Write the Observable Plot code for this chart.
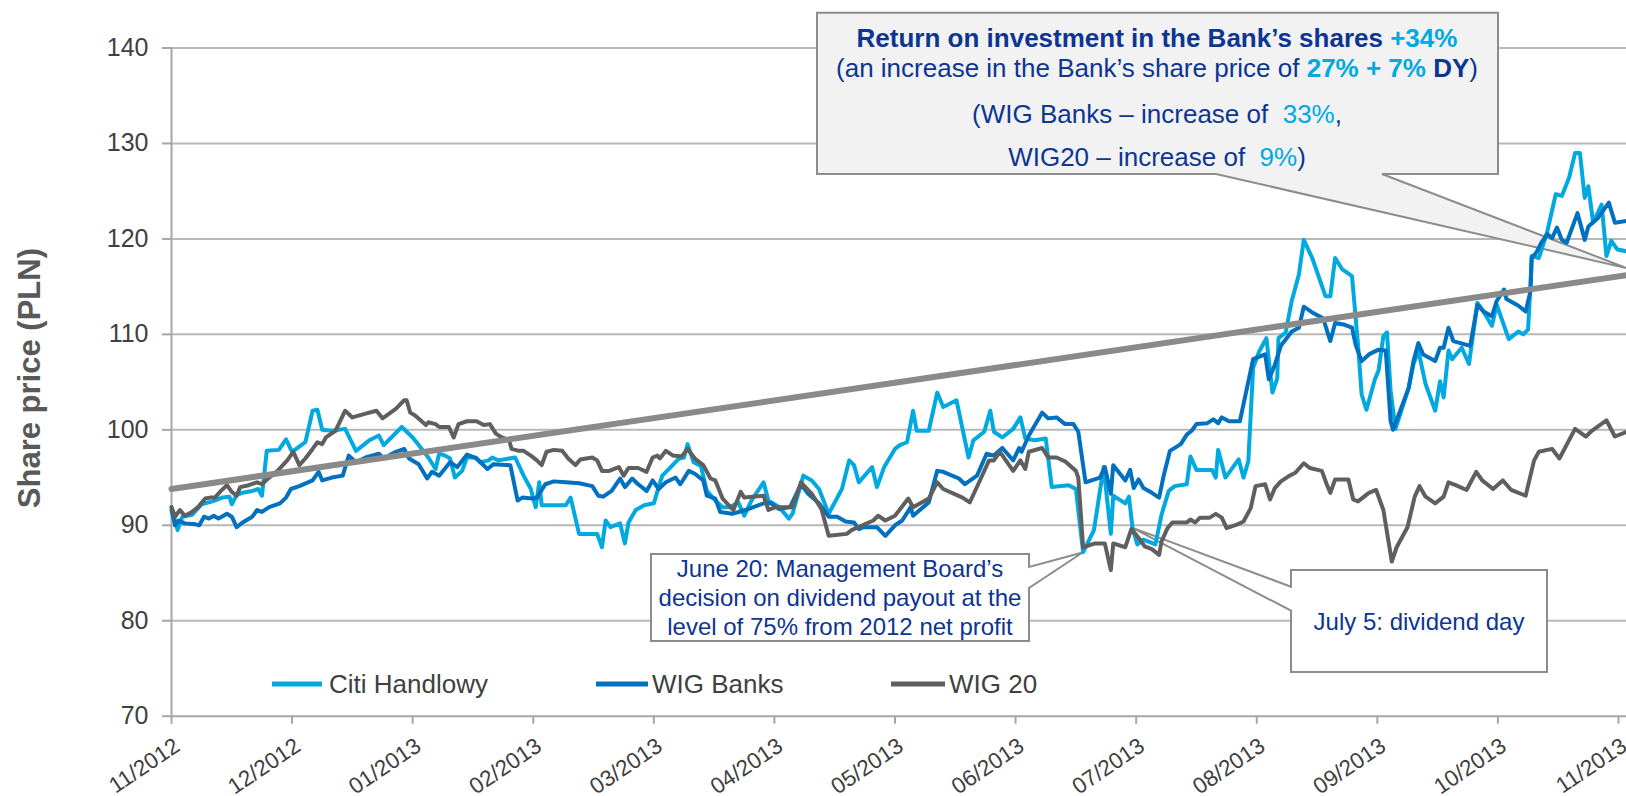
<!DOCTYPE html>
<html><head><meta charset="utf-8">
<script src="https://cdn.jsdelivr.net/npm/d3@7"></script>
<script src="https://cdn.jsdelivr.net/npm/@observablehq/plot@0.6"></script>
<style>
html,body{margin:0;padding:0;background:#fff;}
#chart{position:relative;width:1626px;height:796px;}
svg{display:block;}
</style></head><body><div id="chart"></div>
<script>
// ---- tick labels ----
const monthLabels = ["11/2012","12/2012","01/2013","02/2013","03/2013","04/2013","05/2013","06/2013","07/2013","08/2013","09/2013","10/2013","11/2013"];
const yTicks = [70, 80, 90, 100, 110, 120, 130, 140];

// ---- series: [months since 11/2012, share price] ----
const citi = [[0,91.9],[0.05,89.5],[0.09,90.9],[0.17,91.1],[0.25,92.2],[0.34,92.5],[0.42,92.9],[0.48,93.0],[0.50,92.2],[0.54,93.2],[0.59,93.4],[0.67,93.6],[0.72,93.8],[0.75,93.1],[0.79,97.8],[0.89,97.9],[0.95,99.0],[1.00,97.7],[1.11,98.7],[1.17,102.0],[1.21,102.1],[1.25,100.0],[1.33,99.9],[1.44,100.1],[1.53,97.8],[1.64,98.9],[1.72,99.4],[1.76,98.4],[1.91,100.3],
[2.00,99.2],[2.05,98.4],[2.13,97.1],[2.19,95.9],[2.22,97.5],[2.27,97.3],[2.31,97.0],[2.35,95.0],[2.41,95.7],[2.45,97.1],[2.52,97.1],[2.56,96.6],[2.63,96.8],[2.66,97.1],[2.71,96.8],[2.80,97.0],[2.85,97.1],[2.92,95.2],[2.98,93.8],[3.02,91.9],[3.05,94.5],[3.07,92.1],[3.16,92.1],[3.27,92.1],[3.31,92.9],[3.38,89.1],[3.53,89.1],[3.57,87.7],[3.60,90.5],[3.64,89.8],[3.72,90.2],[3.76,88.1],[3.79,90.3],[3.85,91.6],[3.92,92.1],
[4.00,92.3],[4.04,94.0],[4.07,95.2],[4.14,96.1],[4.21,97.0],[4.25,97.1],[4.28,98.5],[4.33,96.6],[4.39,96.2],[4.44,93.6],[4.51,92.6],[4.57,91.9],[4.63,91.9],[4.70,92.4],[4.75,91.0],[4.81,92.6],[4.91,94.5],[4.95,92.6],[5.04,91.9],[5.12,90.7],[5.15,91.2],[5.24,95.2],[5.31,94.7],[5.37,93.8],[5.45,91.2],[5.56,93.8],[5.62,96.8],[5.66,96.3],[5.70,94.5],[5.81,96.1],[5.85,94.0],[5.91,96.1],
[6.00,98.0],[6.04,98.4],[6.10,98.7],[6.15,102.0],[6.18,99.9],[6.28,99.9],[6.35,103.9],[6.40,102.4],[6.51,103.1],[6.61,97.1],[6.65,98.9],[6.74,99.8],[6.79,102.0],[6.82,99.8],[6.89,99.2],[6.98,100.1],[7.04,101.3],[7.08,99.1],[7.16,98.9],[7.25,99.1],[7.30,94.0],[7.44,94.2],[7.50,93.8],[7.56,87.2],[7.65,89.5],[7.73,96.1],[7.79,89.1],[7.81,93.1],[7.91,92.3],
[7.94,93.0],[7.97,89.7],[8.01,88.0],[8.06,88.5],[8.16,88.0],[8.21,91.1],[8.27,93.6],[8.32,94.1],[8.42,94.3],[8.45,97.2],[8.50,95.8],[8.63,95.8],[8.66,95.0],[8.68,97.9],[8.74,95.0],[8.85,96.9],[8.89,95.0],[8.93,96.7],[8.97,106.5],[9.02,108.2],[9.08,109.6],[9.13,103.9],[9.17,105.4],[9.18,109.6],[9.24,110.2],[9.29,113.5],[9.35,116.3],[9.39,119.9],[9.46,118.0],[9.57,114.0],[9.61,114.0],[9.65,118.0],[9.71,116.8],[9.79,116.1],[9.84,108.9],[9.87,103.7],[9.91,102.1],
[9.98,105.3],[10.01,106.2],[10.05,109.8],[10.08,110.2],[10.11,104.1],[10.15,100.1],[10.26,104.4],[10.30,106.9],[10.34,108.3],[10.40,104.8],[10.48,102.0],[10.52,105.1],[10.55,103.4],[10.59,108.3],[10.62,107.4],[10.70,108.6],[10.76,106.9],[10.83,113.3],[10.88,112.4],[10.95,110.9],[10.99,113.1],[11.09,109.5],[11.17,110.3],[11.21,110.0],[11.25,110.5],[11.27,115.2],[11.28,118.2],[11.34,118.0],[11.41,120.8],[11.48,124.7],[11.53,124.5],[11.59,126.4],[11.64,129.0],[11.68,129.0],[11.72,124.3],[11.75,125.5],[11.79,121.7],[11.86,123.6],[11.90,118.2],[11.94,119.8],[11.99,118.9],[12.07,118.7]];

const wigBanks = [[0,91.6],[0.03,90.0],[0.06,90.5],[0.11,90.2],[0.20,90.1],[0.23,90.0],[0.27,90.9],[0.31,90.7],[0.35,91.0],[0.39,90.7],[0.46,91.2],[0.50,90.9],[0.54,89.8],[0.59,90.3],[0.67,90.9],[0.71,91.6],[0.75,91.4],[0.81,91.9],[0.90,92.3],[0.95,92.9],[0.99,93.8],[1.06,94.1],[1.17,94.7],[1.22,95.6],[1.25,94.7],[1.33,95.0],[1.42,95.2],[1.47,97.3],[1.53,96.6],[1.61,97.1],[1.72,97.5],[1.76,97.0],[1.86,97.7],[1.93,98.0],
[1.97,97.0],[2.05,96.4],[2.12,94.9],[2.16,95.6],[2.22,95.2],[2.31,96.6],[2.37,96.1],[2.45,97.4],[2.53,97.0],[2.62,95.9],[2.67,96.4],[2.81,96.3],[2.87,92.6],[2.91,92.9],[2.99,92.8],[3.03,92.9],[3.10,94.3],[3.17,94.6],[3.27,94.5],[3.38,94.4],[3.49,94.1],[3.54,93.1],[3.58,93.0],[3.65,93.6],[3.72,94.9],[3.76,94.0],[3.82,94.9],[3.87,94.3],[3.94,93.6],
[3.99,94.7],[4.04,93.8],[4.10,94.5],[4.18,95.0],[4.22,94.3],[4.29,95.7],[4.34,95.4],[4.41,94.7],[4.44,93.1],[4.51,92.8],[4.55,91.4],[4.65,91.2],[4.76,91.6],[4.91,92.3],[4.97,92.3],[5.04,91.7],[5.13,91.9],[5.22,94.3],[5.28,93.3],[5.37,92.3],[5.45,90.9],[5.52,90.9],[5.59,90.4],[5.66,90.3],[5.70,89.6],[5.74,89.8],[5.85,89.8],[5.92,88.9],
[6.00,90.0],[6.06,90.5],[6.13,91.9],[6.15,91.0],[6.28,92.4],[6.35,95.7],[6.40,95.6],[6.53,94.9],[6.58,94.3],[6.68,95.2],[6.76,97.5],[6.82,97.3],[6.89,98.1],[6.98,96.8],[7.03,98.1],[7.05,97.7],[7.11,99.4],[7.22,101.8],[7.27,101.2],[7.34,101.3],[7.41,100.6],[7.48,100.6],[7.52,99.8],[7.58,94.5],[7.70,95.0],[7.74,96.1],[7.79,93.3],[7.81,96.3],[7.91,94.7],
[7.95,95.8],[7.98,93.9],[8.02,94.8],[8.06,93.9],[8.13,93.4],[8.19,92.9],[8.23,95.3],[8.28,97.8],[8.37,98.5],[8.42,99.5],[8.46,99.9],[8.50,100.6],[8.59,100.7],[8.64,101.1],[8.68,100.7],[8.71,101.3],[8.77,100.9],[8.86,100.9],[8.97,107.4],[9.07,107.9],[9.10,105.3],[9.15,106.8],[9.20,108.8],[9.29,110.3],[9.35,110.7],[9.39,112.9],[9.46,112.3],[9.55,111.7],[9.61,109.3],[9.65,111.2],[9.73,111.0],[9.79,110.7],[9.82,108.9],[9.87,107.2],[9.93,107.9],
[10.01,108.4],[10.07,108.3],[10.11,100.9],[10.13,100.0],[10.26,104.4],[10.30,107.2],[10.34,109.1],[10.38,107.9],[10.48,107.2],[10.52,108.6],[10.55,108.6],[10.59,110.7],[10.63,109.3],[10.77,108.8],[10.83,113.1],[10.88,112.4],[10.95,111.9],[10.99,113.5],[11.05,114.7],[11.07,113.7],[11.17,113.0],[11.23,112.4],[11.27,114.5],[11.28,118.0],[11.32,118.6],[11.36,119.6],[11.41,120.5],[11.45,120.1],[11.49,121.2],[11.53,119.9],[11.57,119.6],[11.66,122.7],[11.72,119.9],[11.75,121.3],[11.83,122.2],[11.92,123.8],[11.97,121.7],[12.07,121.9]];

const wig20 = [[0,91.9],[0.03,90.9],[0.07,91.6],[0.11,91.0],[0.17,91.4],[0.22,91.9],[0.28,92.8],[0.32,92.9],[0.36,92.9],[0.41,93.6],[0.46,94.2],[0.50,93.5],[0.54,93.1],[0.57,94.0],[0.64,94.2],[0.71,94.5],[0.75,94.3],[0.81,95.0],[0.88,95.7],[0.96,96.8],[1.01,97.7],[1.06,96.3],[1.11,97.0],[1.17,98.0],[1.21,98.7],[1.25,98.5],[1.28,99.2],[1.36,99.9],[1.44,102.0],[1.50,101.3],[1.61,101.7],[1.70,102.0],[1.75,101.2],[1.86,102.2],[1.93,103.1],[1.95,103.1],
[1.98,101.8],[2.02,101.5],[2.11,100.5],[2.13,100.8],[2.19,100.6],[2.22,100.3],[2.30,100.3],[2.34,99.2],[2.38,100.6],[2.45,100.9],[2.53,100.9],[2.59,100.5],[2.64,100.6],[2.69,99.6],[2.74,99.2],[2.80,98.9],[2.82,98.0],[2.88,97.8],[2.92,97.8],[2.98,97.3],[3.03,96.8],[3.07,96.3],[3.11,97.7],[3.17,97.9],[3.24,97.8],[3.29,97.0],[3.35,96.3],[3.39,96.9],[3.49,97.1],[3.53,96.8],[3.57,95.7],[3.63,95.7],[3.71,96.1],[3.75,95.2],[3.79,96.0],[3.87,96.0],[3.94,95.6],
[3.99,97.1],[4.03,97.3],[4.05,97.0],[4.10,97.8],[4.16,97.3],[4.23,97.2],[4.28,98.0],[4.34,97.0],[4.41,96.3],[4.47,94.9],[4.51,94.7],[4.57,92.8],[4.66,91.6],[4.72,93.5],[4.75,92.9],[4.91,93.1],[4.95,91.6],[5.01,91.9],[5.15,91.9],[5.22,94.5],[5.31,93.3],[5.39,91.7],[5.45,88.9],[5.60,89.1],[5.64,89.5],[5.73,90.0],[5.82,90.5],[5.86,91.0],[5.92,90.5],
[6.00,91.0],[6.11,92.8],[6.15,91.9],[6.28,92.8],[6.35,94.5],[6.40,93.8],[6.56,92.9],[6.62,92.4],[6.69,94.3],[6.78,96.8],[6.82,96.8],[6.87,97.7],[6.98,95.7],[7.04,96.8],[7.08,95.9],[7.11,97.7],[7.22,98.1],[7.27,97.1],[7.34,97.1],[7.41,96.7],[7.50,95.7],[7.52,95.0],[7.56,87.7],[7.66,88.1],[7.74,88.1],[7.79,85.3],[7.81,88.1],[7.91,87.7],
[7.96,89.6],[8.02,88.7],[8.07,87.8],[8.13,87.5],[8.19,86.9],[8.21,88.3],[8.26,89.7],[8.30,90.3],[8.42,90.3],[8.45,90.6],[8.49,90.3],[8.53,90.8],[8.61,90.8],[8.66,91.2],[8.71,90.8],[8.75,89.7],[8.84,90.1],[8.89,90.4],[8.95,91.8],[8.99,94.1],[9.07,94.3],[9.11,92.7],[9.15,93.9],[9.20,94.6],[9.26,95.1],[9.32,95.5],[9.39,96.5],[9.44,96.0],[9.54,95.7],[9.58,94.3],[9.61,93.4],[9.65,94.8],[9.76,94.8],[9.80,92.7],[9.84,92.5],[9.93,93.4],
[9.99,93.7],[10.05,91.6],[10.12,86.2],[10.16,87.7],[10.25,89.8],[10.31,93.0],[10.35,94.1],[10.40,93.0],[10.48,92.3],[10.55,93.0],[10.59,94.5],[10.65,94.2],[10.74,93.7],[10.82,95.6],[10.87,94.7],[10.96,93.8],[11.04,94.7],[11.11,93.7],[11.23,93.1],[11.30,96.8],[11.34,97.7],[11.41,97.9],[11.45,98.0],[11.51,97.0],[11.64,100.1],[11.73,99.3],[11.77,99.8],[11.90,101.0],[11.97,99.3],[12.07,99.8]];

// trend line end points [month, value]
const trend = [[0, 93.8], [12.07, 116.2]];

const seriesNames = ["Citi Handlowy", "WIG Banks", "WIG 20"];
const seriesColors = ["#00a9e0", "#0070c0", "#5f5f5f"];

// annotation anchor points in data space [month, value]
const tipJune = [7.56, 87.1];
const tipJuly = [7.97, 89.7];
const tipRoi = [12.07, 116.9];
const xEnd = 12.07;

const FONT = '"Liberation Sans", Arial, Helvetica, sans-serif';
const DARK = "#0d3592";
const LIGHT = "#00a9e0";
const monthIdx = monthLabels.map((_, i) => i);
const rows = (arr) => arr.map(([t, v]) => ({t, v}));

const plot = Plot.plot({
  width: 1626, height: 796,
  marginLeft: 171, marginRight: 8, marginTop: 47.5, marginBottom: 80.3,
  x: {domain: [0, 12]},
  y: {domain: [70, 140]},
  style: {fontFamily: FONT, background: "white", overflow: "visible"},
  marks: [
    Plot.ruleY(yTicks.slice(1), {x1: 0, x2: xEnd, stroke: "#b8b8b8", strokeWidth: 2}),
    Plot.ruleY([70], {x1: 0, x2: xEnd, stroke: "#a6a6a6", strokeWidth: 2}),
    Plot.ruleX([0], {y1: 70, y2: 140, stroke: "#a6a6a6", strokeWidth: 2}),
    Plot.axisY({ticks: yTicks, tickSize: 9, tickPadding: 14, fontSize: 25, fill: "#404040", stroke: "#a6a6a6", strokeWidth: 2, label: null}),
    Plot.axisX({ticks: monthIdx, tickSize: 8, tickFormat: () => "", stroke: "#a6a6a6", strokeWidth: 2, label: null}),
    Plot.text(monthIdx, {x: d => d, frameAnchor: "bottom", text: d => monthLabels[d], rotate: -34, textAnchor: "end", lineAnchor: "top", dx: 1, dy: 20, fontSize: 22.5, fill: "#404040"}),
    Plot.text(["Share price (PLN)"], {frameAnchor: "left", textAnchor: "middle", lineAnchor: "middle", dx: -141, dy: -4, rotate: -90, fontSize: 31, fontWeight: "bold", fill: "#595959"}),
    Plot.line(rows(citi), {x: "t", y: "v", stroke: seriesColors[0], strokeWidth: 4}),
    Plot.line(rows(wigBanks), {x: "t", y: "v", stroke: seriesColors[1], strokeWidth: 4}),
    Plot.line(rows(wig20), {x: "t", y: "v", stroke: seriesColors[2], strokeWidth: 4}),
    Plot.line(trend, {x: d => d[0], y: d => d[1], stroke: "#8a8a8a", strokeWidth: 6})
  ]
});
document.getElementById("chart").appendChild(plot);

// ---- annotations (layout in px, tips through the scales) ----
const sx = plot.scale("x"), sy = plot.scale("y");
const P = ([t, v]) => [sx.apply(t), sy.apply(v)];
const svg = d3.select(plot);
const ann = svg.insert("g", "g[aria-label='line']").attr("font-family", FONT);

const [rx, ry] = P(tipRoi);
ann.append("path")
  .attr("d", `M817,12.7H1498V174H1382L${rx},${ry}L1216,174H817Z`)
  .attr("fill", "#f2f2f2").attr("stroke", "#8c8c8c").attr("stroke-width", 2);
const [jx, jy] = P(tipJune);
ann.append("path")
  .attr("d", `M651,554H1029V567L${jx},${jy}L1029,588V641H651Z`)
  .attr("fill", "#fff").attr("stroke", "#8c8c8c").attr("stroke-width", 2);
const [kx, ky] = P(tipJuly);
ann.append("path")
  .attr("d", `M1291,570H1547V672H1291V610.7L${kx},${ky}L1291,586.7Z`)
  .attr("fill", "#fff").attr("stroke", "#8c8c8c").attr("stroke-width", 2);

function richLine(x, y, size, parts) {
  const t = ann.append("text").attr("x", x).attr("y", y).attr("text-anchor", "middle")
    .attr("font-size", size).attr("fill", DARK);
  parts.forEach(([s, c, b]) => t.append("tspan").text(s).attr("fill", c || DARK).attr("font-weight", b ? "bold" : "normal"));
}
richLine(1157, 47, 26, [["Return on investment in the Bank’s shares ", DARK, 1], ["+34%", LIGHT, 1]]);
richLine(1157, 77, 26, [["(an increase in the Bank’s share price of "], ["27% + 7%", LIGHT, 1], [" DY", DARK, 1], [")"]]);
richLine(1157, 123, 26, [["(WIG Banks – increase of  "], ["33%", LIGHT], [","]]);
richLine(1157, 166, 26, [["WIG20 – increase of  "], ["9%", LIGHT], [")"]]);

richLine(840, 577, 24, [["June 20: Management Board’s"]]);
richLine(840, 606, 24, [["decision on dividend payout at the"]]);
richLine(840, 635, 24, [["level of 75% from 2012 net profit"]]);
richLine(1419, 630, 24, [["July 5: dividend day"]]);

// ---- legend ----
const leg = svg.append("g").attr("font-family", FONT);
const legendPos = [[272, 322, 329], [596, 648, 652], [891, 945, 949]];
seriesNames.forEach((name, i) => {
  const [a, b, c] = legendPos[i];
  leg.append("line").attr("x1", a).attr("x2", b).attr("y1", 684).attr("y2", 684)
    .attr("stroke", seriesColors[i]).attr("stroke-width", 5);
  leg.append("text").attr("x", c).attr("y", 684).attr("dy", "0.35em").attr("text-anchor", "start")
    .attr("font-size", 26).attr("fill", "#404040").text(name);
});
</script></body></html>
